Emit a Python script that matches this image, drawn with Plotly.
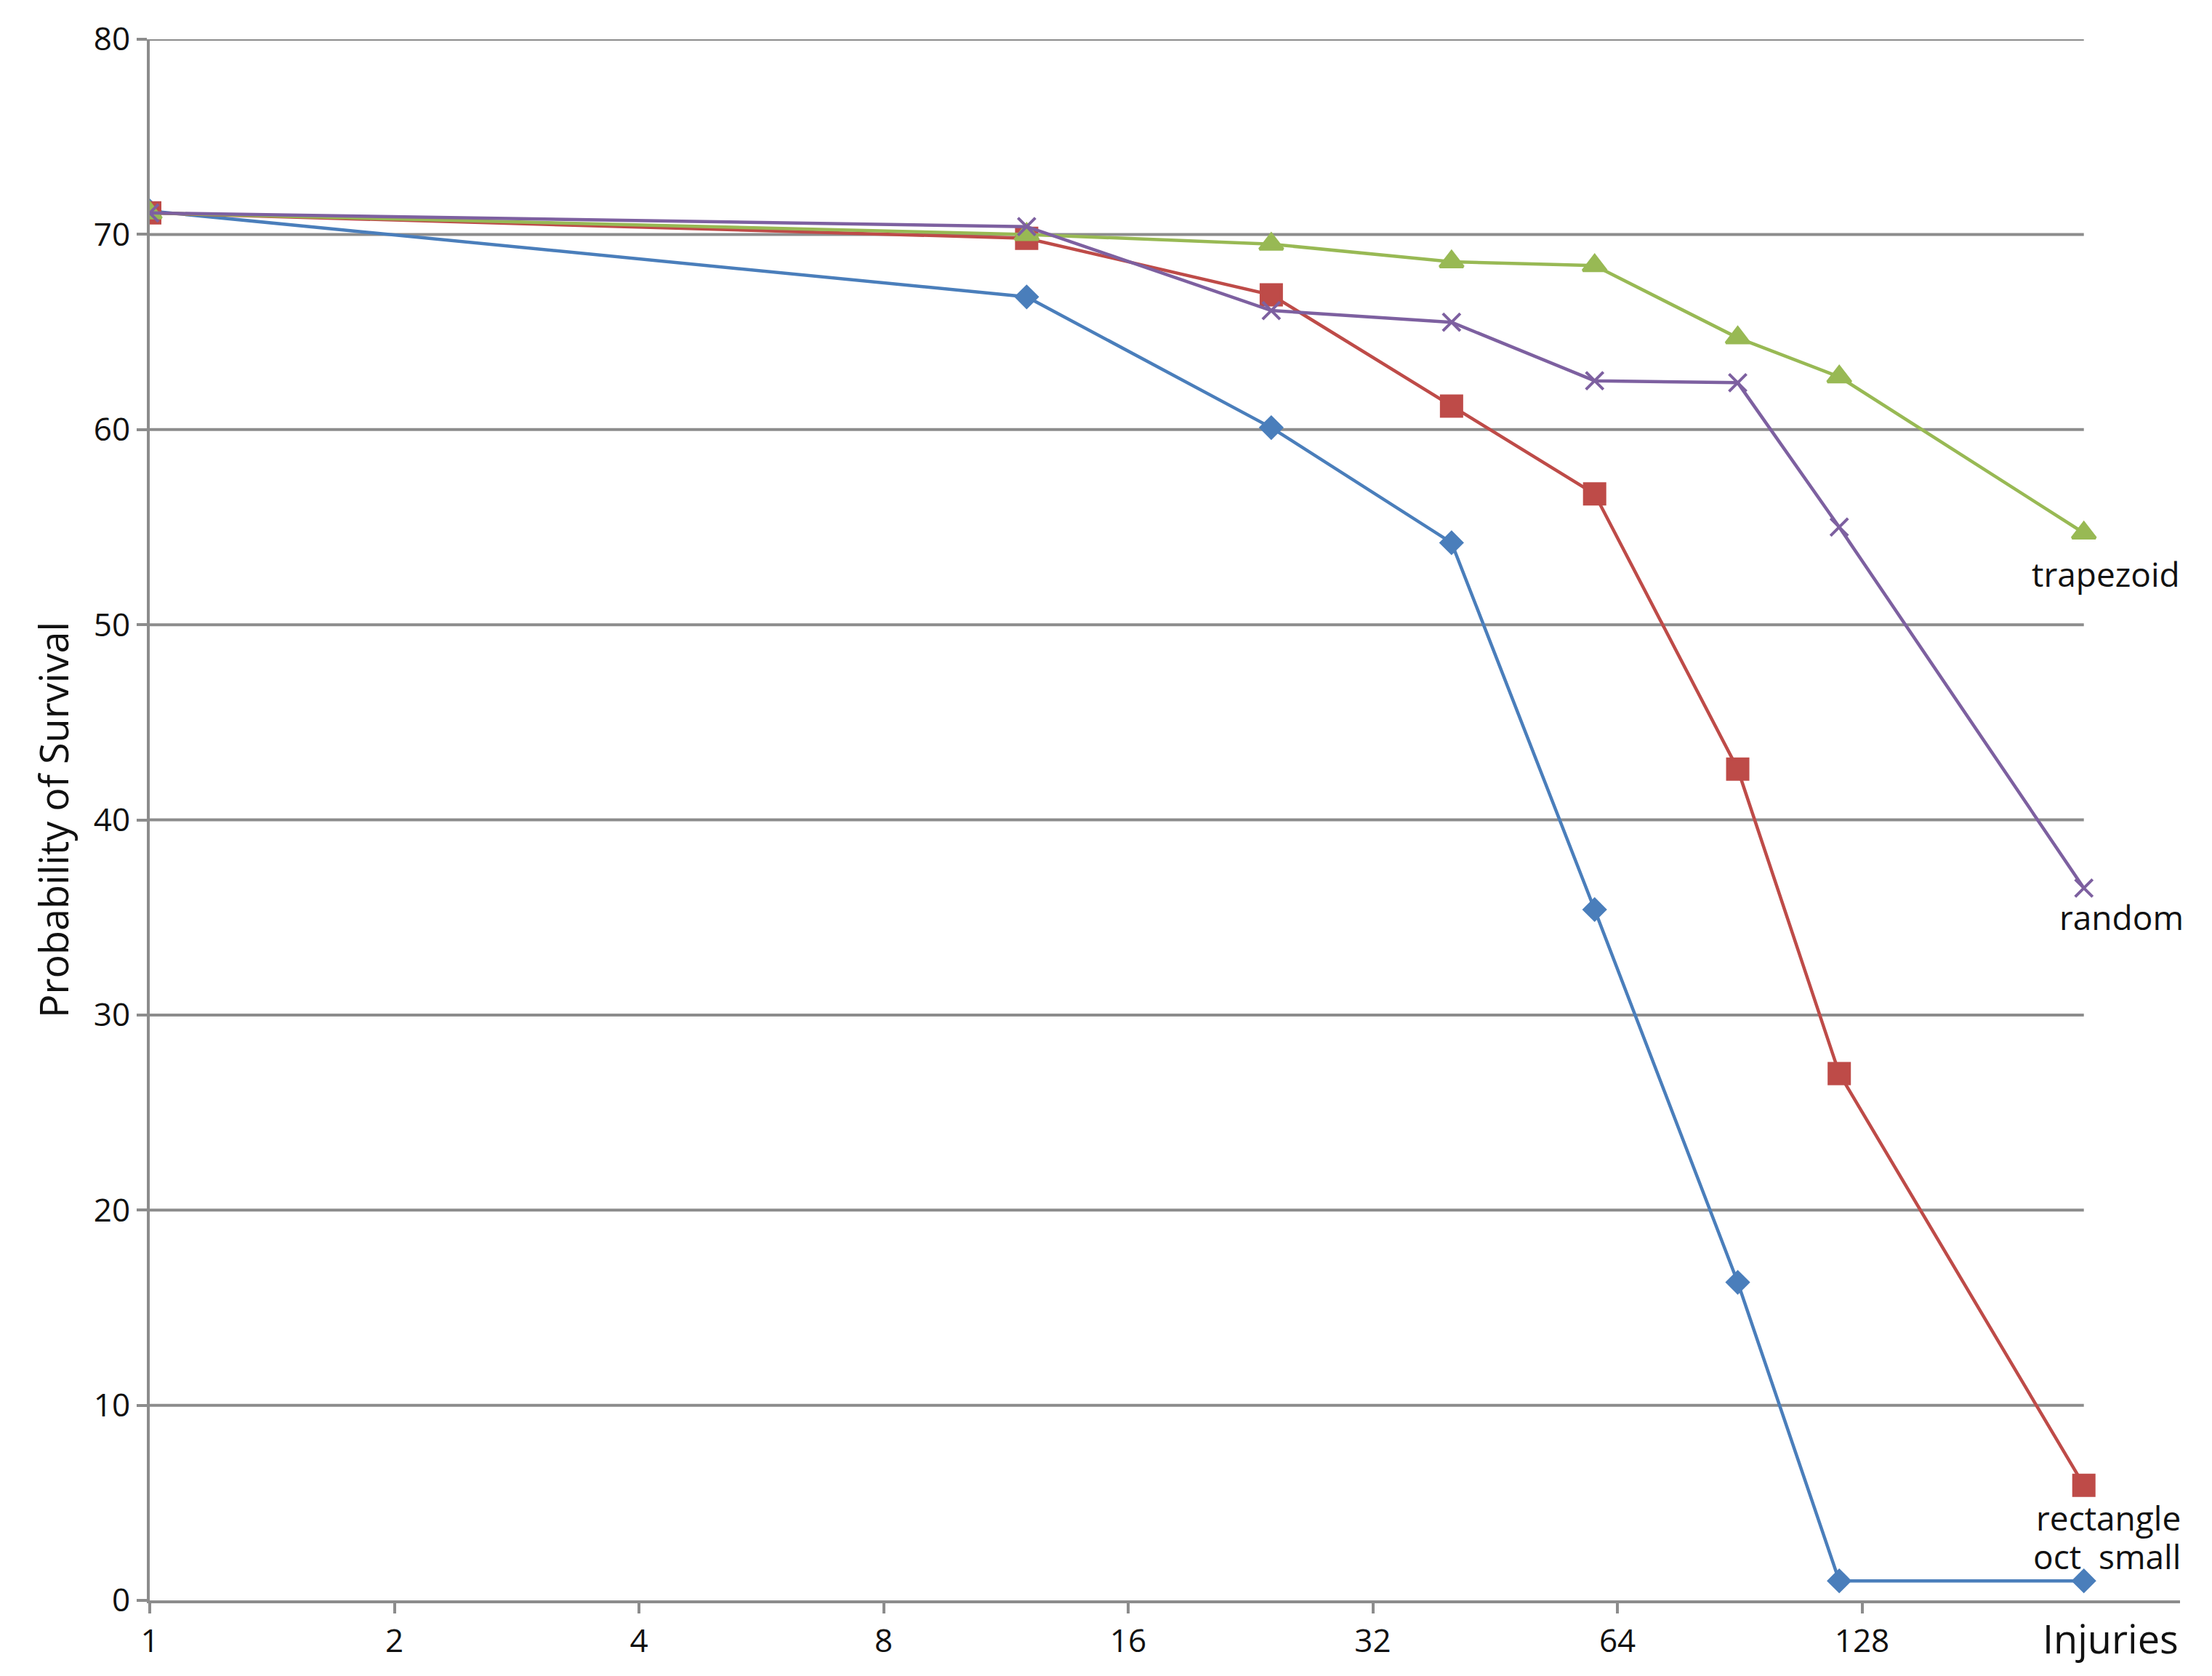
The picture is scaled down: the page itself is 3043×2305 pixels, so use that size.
import plotly.graph_objects as go
import math

injuries = [1, 12, 24, 40, 60, 90, 120, 240]
oct_small = [71.2, 66.8, 60.1, 54.2, 35.4, 16.3, 1.0, 1.0]
rectangle = [71.1, 69.8, 66.9, 61.2, 56.7, 42.6, 27.0, 5.9]
trapezoid = [71.1, 70.0, 69.5, 68.6, 68.4, 64.7, 62.7, 54.7]
random_ = [71.1, 70.4, 66.1, 65.5, 62.5, 62.4, 55.0, 36.5]
x_ticks = [1, 2, 4, 8, 16, 32, 64, 128]
y_ticks = [0, 10, 20, 30, 40, 50, 60, 70, 80]

series = [
    ("oct small", oct_small, "#4A7EBB", "diamond", 22),
    ("rectangle", rectangle, "#BE4B48", "square", 28),
    ("trapezoid", trapezoid, "#98B954", "triangle-up", 28),
    ("random", random_, "#7D60A0", "x-thin-open", 24),
]

fig = go.Figure()
for name, ys, col, sym, sz in series:
    fig.add_trace(go.Scatter(x=injuries, y=ys, mode="lines+markers", name=name,
                             line=dict(color=col, width=4.5),
                             marker=dict(symbol=sym, size=sz, color=col,
                                         line=dict(color=col, width=4))))

shapes = []
for yv in y_ticks[1:]:
    shapes.append(dict(type="line", xref="x", yref="y", x0=1, x1=injuries[-1], y0=yv, y1=yv,
                       line=dict(color="#8c8c8c", width=4), layer="below"))

ann = [
    dict(x=math.log10(injuries[-1]), y=trapezoid[-1], text="trapezoid", yshift=-56, xshift=30),
    dict(x=math.log10(injuries[-1]), y=random_[-1], text="random", yshift=-40, xshift=52),
    dict(x=math.log10(injuries[-1]), y=rectangle[-1], text="rectangle", yshift=-44, xshift=34),
    dict(x=math.log10(injuries[-1]), y=oct_small[-1], text="oct  small", yshift=34, xshift=32),
]
annotations = [dict(a, xref="x", yref="y", showarrow=False, font=dict(size=46, color="#111"))
               for a in ann]
annotations.append(dict(xref="paper", yref="paper", x=1.0, y=-0.006, text="Injuries",
                        showarrow=False, xanchor="right", yanchor="top",
                        font=dict(size=54, color="#111")))

fig.update_layout(
    width=3043, height=2305, plot_bgcolor="white", paper_bgcolor="white",
    margin=dict(l=198, r=52, t=46, b=112),
    showlegend=False, shapes=shapes, annotations=annotations,
    font=dict(family="Open Sans, DejaVu Sans", size=44, color="#111"),
    xaxis=dict(type="log", range=[0, math.log10(2 ** 8.3)], tickvals=x_ticks,
               ticktext=[str(t) for t in x_ticks], showgrid=False, showline=True,
               linecolor="#8c8c8c", linewidth=4, ticks="outside", ticklen=14,
               tickcolor="#8c8c8c", tickwidth=4, zeroline=False),
    yaxis=dict(range=[0, 80], tickvals=y_ticks, showgrid=False, showline=True,
               linecolor="#8c8c8c", linewidth=4, ticks="outside", ticklen=14,
               tickcolor="#8c8c8c", tickwidth=4, zeroline=False,
               title=dict(text="Probability of Survival", font=dict(size=54), standoff=18)),
)
fig.write_html("out.html")
